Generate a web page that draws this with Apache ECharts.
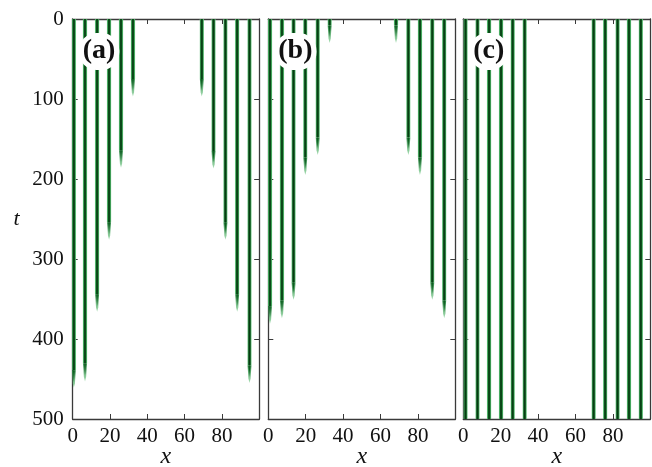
<!DOCTYPE html>
<html>
<head>
<meta charset="utf-8">
<script src="https://cdn.jsdelivr.net/npm/echarts@6/dist/echarts.min.js"></script>
<style>
  html, body { margin: 0; padding: 0; background: #fff; }
  #chart { width: 652px; height: 467px; }
</style>
</head>
<body>
<div id="chart"></div>
<script>
// Stripe positions (x) and the time at which each stripe dies out (t), per panel
var panelNames = ['(a)', '(b)', '(c)'];

var stripeXA = [0.6, 6.6, 13.1, 19.5, 25.9, 32.3, 69.2, 75.5, 81.9, 88.2, 94.8];
var stripeTA = [461, 453, 366, 276, 186, 97, 97, 187, 276, 366, 455];

var stripeXB = [0.9, 7.3, 13.5, 19.8, 26.4, 32.8, 68.3, 74.9, 81.1, 87.7, 94.1];
var stripeTB = [381, 374, 351, 195, 170, 30, 30, 170, 195, 351, 374];

var stripeXC = [1.2, 7.6, 13.8, 20.2, 26.4, 32.8, 69.7, 75.9, 82.5, 88.6, 94.9];
var stripeTC = [500, 500, 500, 500, 500, 500, 500, 500, 500, 500, 500];

var xTicks = [0, 20, 40, 60, 80];
var tTicks = [0, 100, 200, 300, 400, 500];

var panelX = [stripeXA, stripeXB, stripeXC];
var panelT = [stripeTA, stripeTB, stripeTC];

var STRIPE_W = 2.4;   // stripe width in x units
var TAPER = 22;       // length of the narrowing tip in t units
var T_MAX = 500;

var serif = "'Liberation Serif', 'DejaVu Serif', serif";
var frameColor = '#3a3a3a';

var gridBoxes = [
  { left: 72.7, top: 19, width: 186.5, height: 400 },
  { left: 268.3, top: 19, width: 187, height: 400 },
  { left: 463.3, top: 19, width: 187, height: 400 }
];

function bodyFill() {
  return new echarts.graphic.LinearGradient(0, 0, 1, 0, [
    { offset: 0, color: 'rgba(130,205,150,0.45)' },
    { offset: 0.14, color: '#4cb065' },
    { offset: 0.34, color: '#0d4f1b' },
    { offset: 0.5, color: '#073a12' },
    { offset: 0.66, color: '#0d4f1b' },
    { offset: 0.86, color: '#4cb065' },
    { offset: 1, color: 'rgba(130,205,150,0.45)' }
  ]);
}

function tipFill() {
  return new echarts.graphic.LinearGradient(0, 0, 0, 1, [
    { offset: 0, color: '#237e3a' },
    { offset: 1, color: 'rgba(110,200,130,0.6)' }
  ]);
}

function renderStripe(params, api) {
  var x = api.value(0);
  var tEnd = api.value(1);
  var hw = STRIPE_W / 2;
  var children = [];
  if (tEnd >= T_MAX) {
    var a = api.coord([x - hw, 0]);
    var b = api.coord([x + hw, T_MAX]);
    children.push({
      type: 'rect',
      shape: { x: a[0], y: a[1], width: b[0] - a[0], height: b[1] - a[1] },
      style: { fill: bodyFill() }
    });
  } else {
    var tMid = Math.max(0, tEnd - TAPER);
    var p0 = api.coord([x - hw, 0]);
    var p1 = api.coord([x + hw, tMid]);
    children.push({
      type: 'rect',
      shape: { x: p0[0], y: p0[1], width: p1[0] - p0[0], height: p1[1] - p0[1] },
      style: { fill: bodyFill() }
    });
    var l = api.coord([x - hw * 0.85, tMid]);
    var r = api.coord([x + hw * 0.85, tMid]);
    var ql = api.coord([x - hw * 0.5, tEnd - TAPER * 0.25]);
    var qr = api.coord([x + hw * 0.5, tEnd - TAPER * 0.25]);
    var tip = api.coord([x, tEnd]);
    children.push({
      type: 'polygon',
      shape: { points: [l, r, qr, tip, ql] },
      style: { fill: tipFill() }
    });
    var cl = api.coord([x - hw * 0.35, tMid]);
    var cr = api.coord([x + hw * 0.35, tMid]);
    var ct = api.coord([x, tEnd - TAPER * 0.35]);
    children.push({
      type: 'polygon',
      shape: { points: [cl, cr, ct] },
      style: { fill: '#0f5a20' }
    });
  }
  return { type: 'group', children: children };
}

var grids = [], xAxes = [], yAxes = [], series = [], titles = [];
var labelFont = { fontFamily: serif, fontSize: 21, color: '#111' };
var lineSty = { color: frameColor, width: 1.3 };
var tickSty = { color: frameColor, width: 1 };

for (var i = 0; i < 3; i++) {
  grids.push(Object.assign({ outerBoundsMode: 'none', containLabel: false }, gridBoxes[i]));
  xAxes.push({
    gridIndex: i, type: 'value', min: 0, max: 100, interval: 20, position: 'bottom',
    axisLine: { show: true, onZero: false, lineStyle: lineSty },
    axisTick: { show: true, inside: true, length: 5, lineStyle: tickSty },
    axisLabel: Object.assign({ margin: 7, showMaxLabel: false,
      formatter: function (v) { return xTicks.indexOf(v) >= 0 ? String(v) : ''; } }, labelFont),
    splitLine: { show: false },
    name: 'x', nameLocation: 'middle', nameGap: 26, nameMoveOverlap: false,
    nameTextStyle: { fontFamily: serif, fontStyle: 'italic', fontSize: 24, color: '#111' }
  });
  xAxes.push({
    gridIndex: i, type: 'value', min: 0, max: 100, interval: 20, position: 'top',
    axisLine: { show: true, onZero: false, lineStyle: lineSty },
    axisTick: { show: true, inside: true, length: 5, lineStyle: tickSty },
    axisLabel: { show: false }, splitLine: { show: false }
  });
  yAxes.push({
    gridIndex: i, type: 'value', min: 0, max: T_MAX, interval: 100, inverse: true, position: 'left',
    axisLine: { show: true, onZero: false, lineStyle: lineSty },
    axisTick: { show: true, inside: true, length: 5, lineStyle: tickSty },
    axisLabel: Object.assign({ show: i === 0, margin: 9,
      formatter: function (v) { return tTicks.indexOf(v) >= 0 ? String(v) : ''; } }, labelFont),
    splitLine: { show: false },
    name: i === 0 ? 't' : '', nameLocation: 'middle', nameGap: 53, nameRotate: 0, nameMoveOverlap: false,
    nameTextStyle: { fontFamily: serif, fontStyle: 'italic', fontSize: 22, color: '#111' }
  });
  yAxes.push({
    gridIndex: i, type: 'value', min: 0, max: T_MAX, interval: 100, inverse: true, position: 'right',
    axisLine: { show: true, onZero: false, lineStyle: lineSty },
    axisTick: { show: true, inside: true, length: 5, lineStyle: tickSty },
    axisLabel: { show: false }, splitLine: { show: false }
  });

  var data = panelX[i].map(function (x, k) { return [x, panelT[i][k]]; });
  series.push({
    type: 'custom',
    xAxisIndex: 2 * i,
    yAxisIndex: 2 * i,
    clip: true,
    silent: true,
    renderItem: renderStripe,
    data: data,
    z: 2
  });

  titles.push({
    text: panelNames[i],
    left: gridBoxes[i].left + 6,
    top: 33,
    padding: [4, 4, 5, 4],
    backgroundColor: '#ffffff',
    borderRadius: 18,
    textStyle: { fontFamily: serif, fontWeight: 'bold', fontSize: 28, color: '#111' },
    z: 10
  });
}

var chart = echarts.init(document.getElementById('chart'), null, { renderer: 'canvas' });
chart.setOption({
  animation: false,
  backgroundColor: '#ffffff',
  title: titles,
  grid: grids,
  xAxis: xAxes,
  yAxis: yAxes,
  series: series
});
</script>
</body>
</html>
